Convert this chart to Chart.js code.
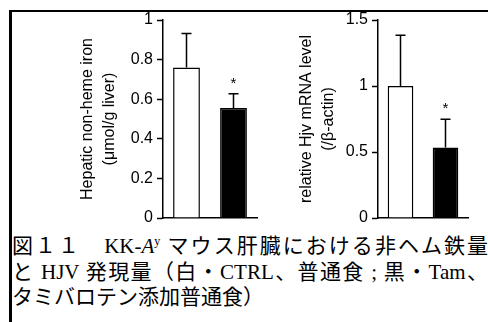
<!DOCTYPE html>
<html>
<head>
<meta charset="utf-8">
<script src="https://cdn.jsdelivr.net/npm/chart.js@4.4.1/dist/chart.umd.min.js"></script>
<style>
  html, body { margin: 0; padding: 0; background: #fff; }
  body { width: 488px; height: 322px; position: relative; overflow: hidden; }
  #frame { position: absolute; left: 9px; top: 10px; width: 490px; height: 320px;
           border-left: 3px solid #000; border-top: 2px solid #000; }
  .pane { position: absolute; top: 0; height: 232px; }
  #iron-pane { left: 73px; width: 189px; }
  #hjv-pane { left: 292px; width: 181px; }
  #caption { position: absolute; left: 12px; top: 234px; width: 476px;
             font-family: "Liberation Serif", "Noto Sans CJK JP", serif; font-size: 21px;
             line-height: 25.5px; color: #000; }
  #caption div { white-space: nowrap; }
  #caption .full { text-align: justify; text-align-last: justify; white-space: normal; }
  #caption sup { font-size: 12px; vertical-align: 8px; line-height: 0; }
</style>
</head>
<body>
<div id="frame"></div>
<div class="pane" id="iron-pane"><canvas id="iron-chart"></canvas></div>
<div class="pane" id="hjv-pane"><canvas id="hjv-chart"></canvas></div>
<div id="caption">
  <div class="full">図１１　KK-<i>A</i><sup>y</sup> マウス肝臓における非ヘム鉄量</div>
  <div class="full">と HJV 発現量（白・CTRL、普通食 ; 黒・Tam、</div>
  <div>タミバロテン添加普通食）</div>
</div>

<script>
const groups = ['CTRL', 'Tam'];
const barColors = ['#ffffff', '#000000'];
const significant = [false, true];

const ironMeans = [0.76, 0.555];
const ironErrors = [0.172, 0.073];
const ironMax = 1;
const ironStep = 0.2;

const hjvMeans = [1.0, 0.535];
const hjvErrors = [0.385, 0.213];
const hjvMax = 1.5;
const hjvStep = 0.5;

const axisFont = { family: '"Liberation Sans", Arial, sans-serif', size: 16 };

// draws the upward error bar and the asterisk over each bar
const errorBarPlugin = {
    id: 'errorBars',
    afterDatasetsDraw(chart, args, opts) {
        const ctx = chart.ctx;
        const meta = chart.getDatasetMeta(0);
        const y = chart.scales.y;
        ctx.save();
        ctx.strokeStyle = '#000';
        ctx.lineWidth = 1.5;
        meta.data.forEach((bar, i) => {
            const top = y.getPixelForValue(opts.means[i] + opts.errors[i]);
            const base = y.getPixelForValue(opts.means[i]);
            ctx.beginPath();
            ctx.moveTo(bar.x, base);
            ctx.lineTo(bar.x, top);
            ctx.moveTo(bar.x - 5, top);
            ctx.lineTo(bar.x + 5, top);
            ctx.stroke();
            if (significant[i]) {
                ctx.fillStyle = '#000';
                ctx.font = '15px "Liberation Sans", Arial, sans-serif';
                ctx.textAlign = 'center';
                ctx.textBaseline = 'alphabetic';
                ctx.fillText('*', bar.x, top - 6);
            }
        });
        ctx.restore();
    }
};

function makeChart(canvasId, means, errors, max, step, title, yWidth) {
    return new Chart(document.getElementById(canvasId), {
        type: 'bar',
        data: {
            labels: groups,
            datasets: [{
                data: means,
                backgroundColor: barColors,
                borderColor: '#000',
                borderWidth: 1.5,
                borderSkipped: 'bottom',
                categoryPercentage: 1,
                barPercentage: 0.57
            }]
        },
        options: {
            responsive: true,
            maintainAspectRatio: false,
            animation: false,
            layout: { padding: { top: 20, bottom: 14, right: 5, left: 0 } },
            plugins: {
                legend: { display: false },
                tooltip: { enabled: false },
                errorBars: { means: means, errors: errors }
            },
            scales: {
                x: {
                    grid: { display: false, drawTicks: false },
                    border: { display: true, color: '#000', width: 1.5 },
                    ticks: { display: false },
                    afterFit: s => { s.height = 0; }
                },
                y: {
                    min: 0,
                    max: max,
                    ticks: {
                        stepSize: step,
                        color: '#000',
                        font: axisFont,
                        padding: 4,
                        callback: v => String(+v.toFixed(2))
                    },
                    grid: { drawOnChartArea: false, drawTicks: true, tickLength: 6, tickColor: '#000', tickWidth: 1.5 },
                    border: { display: true, color: '#000', width: 1.5 },
                    title: {
                        display: true,
                        text: title,
                        color: '#000',
                        font: { family: axisFont.family, size: 16, lineHeight: 1.375 },
                        padding: { top: 4, bottom: 0 }
                    },
                    afterFit: s => { s.width = yWidth; }
                }
            }
        },
        plugins: [errorBarPlugin]
    });
}

makeChart('iron-chart', ironMeans, ironErrors, ironMax, ironStep,
    ['Hepatic non-heme iron', '(μmol/g liver)'], 90);
makeChart('hjv-chart', hjvMeans, hjvErrors, hjvMax, hjvStep,
    ['relative Hjv mRNA level', '(/β-actin)'], 86);
</script>
</body>
</html>
